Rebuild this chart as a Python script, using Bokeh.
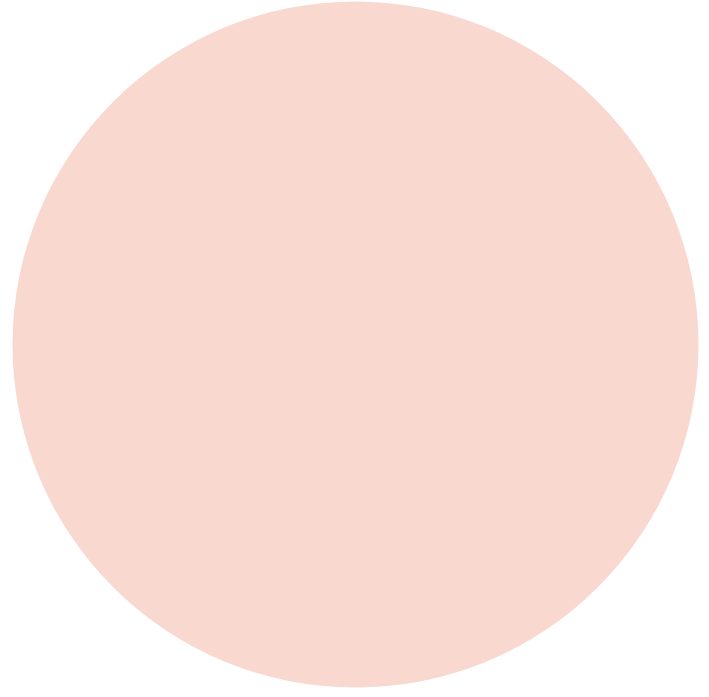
from bokeh.plotting import figure
from bokeh.models import Range1d, ColumnDataSource
from bokeh.embed import file_html
from bokeh.resources import INLINE

# Data: a single category that fills the whole pie
categories = ["A"]
values = [100]
colors = ["#F9D8D0"]

W, H = 701, 689
p = figure(width=W, height=H, output_backend="svg", toolbar_location=None,
           x_range=Range1d(0, W), y_range=Range1d(H, 0), min_border=0,
           background_fill_color=None, border_fill_color=None)
p.axis.visible = False
p.grid.visible = False
p.outline_line_color = None

total = sum(values)
src = ColumnDataSource(dict(cat=categories, val=values, color=colors,
                            x=[355] * len(values), y=[344] * len(values),
                            r=[343 * (v / total) ** 0.5 for v in values]))
p.circle(x="x", y="y", radius="r", fill_color="color", line_color=None, source=src)

open("out.html", "w").write(file_html(p, INLINE))
